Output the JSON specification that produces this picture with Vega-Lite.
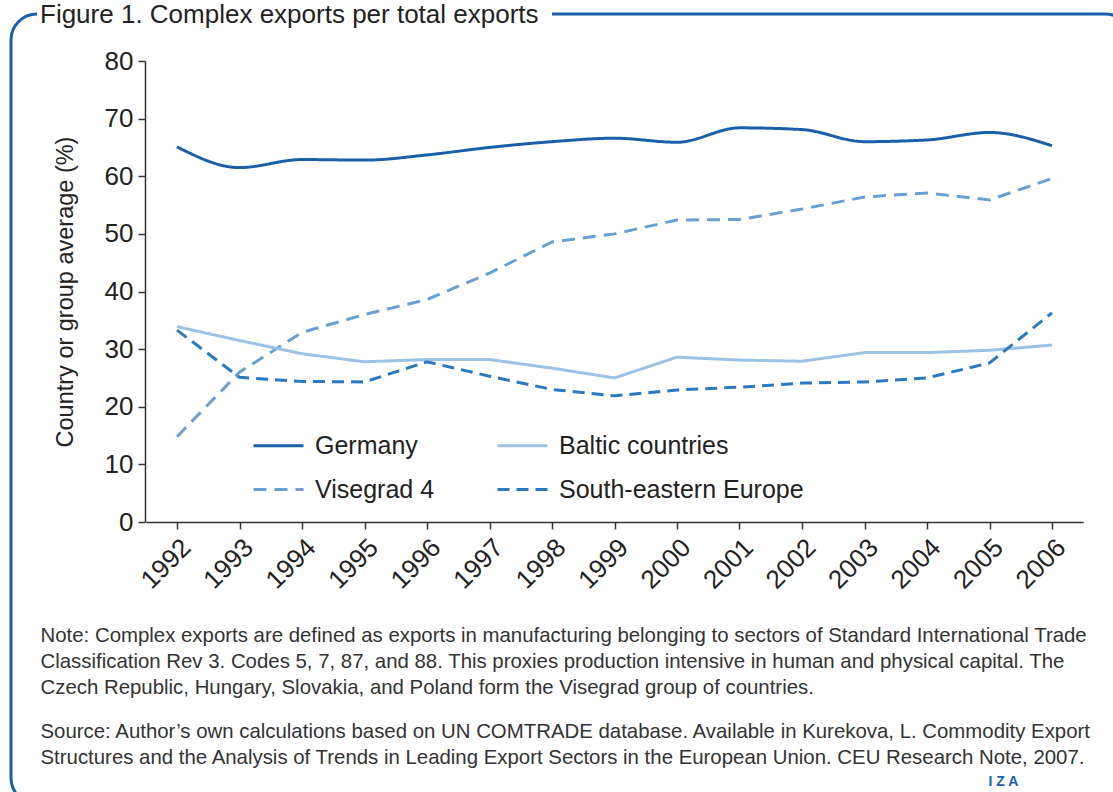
{
  "$schema": "https://vega.github.io/schema/vega-lite/v6.json",
  "width": 1120,
  "height": 790,
  "autosize": "none",
  "padding": {"left": 11, "top": 14, "right": 0, "bottom": 0},
  "background": "white",
  "title": {
    "text": "Figure 1. Complex exports per total exports",
    "anchor": "start",
    "frame": "group",
    "dx": 29,
    "offset": -27,
    "baseline": "middle",
    "font": "Liberation Sans",
    "fontSize": 26,
    "fontWeight": "normal",
    "color": "#222222"
  },
  "data": {
    "values": [
      {"year": 1992, "series": "Germany", "value": 65.1},
      {"year": 1993, "series": "Germany", "value": 61.5},
      {"year": 1994, "series": "Germany", "value": 62.9},
      {"year": 1995, "series": "Germany", "value": 62.8},
      {"year": 1996, "series": "Germany", "value": 63.7},
      {"year": 1997, "series": "Germany", "value": 65.0},
      {"year": 1998, "series": "Germany", "value": 66.0},
      {"year": 1999, "series": "Germany", "value": 66.6},
      {"year": 2000, "series": "Germany", "value": 65.9},
      {"year": 2001, "series": "Germany", "value": 68.4},
      {"year": 2002, "series": "Germany", "value": 68.1},
      {"year": 2003, "series": "Germany", "value": 66.0},
      {"year": 2004, "series": "Germany", "value": 66.3},
      {"year": 2005, "series": "Germany", "value": 67.6},
      {"year": 2006, "series": "Germany", "value": 65.3},

      {"year": 1992, "series": "Visegrad 4", "value": 14.8},
      {"year": 1993, "series": "Visegrad 4", "value": 26.0},
      {"year": 1994, "series": "Visegrad 4", "value": 32.9},
      {"year": 1995, "series": "Visegrad 4", "value": 36.0},
      {"year": 1996, "series": "Visegrad 4", "value": 38.6},
      {"year": 1997, "series": "Visegrad 4", "value": 43.2},
      {"year": 1998, "series": "Visegrad 4", "value": 48.6},
      {"year": 1999, "series": "Visegrad 4", "value": 50.0},
      {"year": 2000, "series": "Visegrad 4", "value": 52.4},
      {"year": 2001, "series": "Visegrad 4", "value": 52.5},
      {"year": 2002, "series": "Visegrad 4", "value": 54.3},
      {"year": 2003, "series": "Visegrad 4", "value": 56.4},
      {"year": 2004, "series": "Visegrad 4", "value": 57.1},
      {"year": 2005, "series": "Visegrad 4", "value": 55.9},
      {"year": 2006, "series": "Visegrad 4", "value": 59.6},

      {"year": 1992, "series": "Baltic countries", "value": 33.9},
      {"year": 1993, "series": "Baltic countries", "value": 31.5},
      {"year": 1994, "series": "Baltic countries", "value": 29.2},
      {"year": 1995, "series": "Baltic countries", "value": 27.8},
      {"year": 1996, "series": "Baltic countries", "value": 28.2},
      {"year": 1997, "series": "Baltic countries", "value": 28.2},
      {"year": 1998, "series": "Baltic countries", "value": 26.7},
      {"year": 1999, "series": "Baltic countries", "value": 25.0},
      {"year": 2000, "series": "Baltic countries", "value": 28.6},
      {"year": 2001, "series": "Baltic countries", "value": 28.1},
      {"year": 2002, "series": "Baltic countries", "value": 27.9},
      {"year": 2003, "series": "Baltic countries", "value": 29.4},
      {"year": 2004, "series": "Baltic countries", "value": 29.4},
      {"year": 2005, "series": "Baltic countries", "value": 29.8},
      {"year": 2006, "series": "Baltic countries", "value": 30.7},

      {"year": 1992, "series": "South-eastern Europe", "value": 33.3},
      {"year": 1993, "series": "South-eastern Europe", "value": 25.1},
      {"year": 1994, "series": "South-eastern Europe", "value": 24.4},
      {"year": 1995, "series": "South-eastern Europe", "value": 24.3},
      {"year": 1996, "series": "South-eastern Europe", "value": 27.8},
      {"year": 1997, "series": "South-eastern Europe", "value": 25.3},
      {"year": 1998, "series": "South-eastern Europe", "value": 23.0},
      {"year": 1999, "series": "South-eastern Europe", "value": 21.9},
      {"year": 2000, "series": "South-eastern Europe", "value": 22.9},
      {"year": 2001, "series": "South-eastern Europe", "value": 23.4},
      {"year": 2002, "series": "South-eastern Europe", "value": 24.1},
      {"year": 2003, "series": "South-eastern Europe", "value": 24.3},
      {"year": 2004, "series": "South-eastern Europe", "value": 25.0},
      {"year": 2005, "series": "South-eastern Europe", "value": 27.6},
      {"year": 2006, "series": "South-eastern Europe", "value": 36.3}
    ]
  },
  "layer": [
    {
      "transform": [{"filter": "datum.series === 'Germany'"}],
      "mark": {"type": "line", "interpolate": "monotone", "strokeWidth": 3},
      "encoding": {
        "x": {
          "field": "year",
          "type": "quantitative",
          "scale": {"domain": [1991.5, 2006.5], "range": [134.75, 1072.25], "nice": false, "zero": false},
          "axis": {
            "orient": "bottom",
            "offset": -282,
            "values": [1992, 1993, 1994, 1995, 1996, 1997, 1998, 1999, 2000, 2001, 2002, 2003, 2004, 2005, 2006],
            "format": "d",
            "labelAngle": -45,
            "labelPadding": 5,
            "labelFontSize": 26,
            "tickSize": 7,
            "grid": false,
            "title": [
              "Note: Complex exports are defined as exports in manufacturing belonging to sectors of Standard International Trade",
              "Classification Rev 3. Codes 5, 7, 87, and 88. This proxies production intensive in human and physical capital. The",
              "Czech Republic, Hungary, Slovakia, and Poland form the Visegrad group of countries."
            ],
            "titleX": 29,
            "titleY": 119,
            "titleAngle": 0,
            "titleAlign": "left",
            "titleAnchor": "start",
            "titleBaseline": "alphabetic",
            "titleFontSize": 20.4,
            "titleFontWeight": "normal",
            "titleColor": "#333333",
            "titleLineHeight": 26,
            "titleLimit": 2000
          }
        },
        "y": {
          "field": "value",
          "type": "quantitative",
          "scale": {"domain": [0, 80], "range": [508, 47], "nice": false, "zero": true},
          "axis": {
            "orient": "left",
            "offset": -134,
            "values": [0, 10, 20, 30, 40, 50, 60, 70, 80],
            "tickSize": 7,
            "labelPadding": 5,
            "labelFontSize": 26,
            "grid": false,
            "title": "Country or group average (%)",
            "titleX": -80,
            "titleY": 277.5,
            "titleAngle": 270,
            "titleAlign": "center",
            "titleBaseline": "middle",
            "titleFontSize": 23.5,
            "titleFontWeight": "normal",
            "titleColor": "#222222"
          }
        },
        "color": {
          "field": "series",
          "type": "nominal",
          "scale": {
            "domain": ["Germany", "Visegrad 4", "Baltic countries", "South-eastern Europe"],
            "range": ["#1b5faa", "#6a9fd3", "#9cc2e5", "#2b79c0"]
          },
          "legend": {
            "orient": "none",
            "legendX": 241,
            "legendY": 405,
            "columns": 2,
            "title": null
          }
        },
        "strokeDash": {
          "field": "series",
          "type": "nominal",
          "scale": {
            "domain": ["Germany", "Visegrad 4", "Baltic countries", "South-eastern Europe"],
            "range": [[1, 0], [13, 8], [1, 0], [12, 7]]
          },
          "legend": {
            "orient": "none",
            "legendX": 241,
            "legendY": 405,
            "columns": 2,
            "title": null
          }
        }
      }
    },
    {
      "transform": [{"filter": "datum.series !== 'Germany'"}],
      "mark": {"type": "line", "strokeWidth": 3},
      "encoding": {
        "x": {
          "field": "year",
          "type": "quantitative",
          "scale": {"domain": [1991.5, 2006.5], "range": [134.75, 1072.25], "nice": false, "zero": false},
          "axis": {
            "orient": "top",
            "offset": 0,
            "domain": false,
            "ticks": false,
            "labels": false,
            "grid": false,
            "title": [
              "Source: Author’s own calculations based on UN COMTRADE database. Available in Kurekova, L. Commodity Export",
              "Structures and the Analysis of Trends in Leading Export Sectors in the European Union. CEU Research Note, 2007."
            ],
            "titleX": 29,
            "titleY": 723,
            "titleAngle": 0,
            "titleAlign": "left",
            "titleAnchor": "start",
            "titleBaseline": "alphabetic",
            "titleFontSize": 20.4,
            "titleFontWeight": "normal",
            "titleColor": "#333333",
            "titleLineHeight": 26,
            "titleLimit": 2000
          }
        },
        "y": {
          "field": "value",
          "type": "quantitative",
          "scale": {"domain": [0, 80], "range": [508, 47], "nice": false, "zero": true},
          "axis": {
            "orient": "right",
            "offset": 0,
            "domain": false,
            "ticks": false,
            "labels": false,
            "grid": false,
            "title": "I  Z  A",
            "titleX": -128,
            "titleY": 767,
            "titleAngle": 0,
            "titleAlign": "center",
            "titleBaseline": "middle",
            "titleFontSize": 14,
            "titleFontWeight": "bold",
            "titleColor": "#1b5faa"
          }
        },
        "color": {
          "field": "series",
          "type": "nominal",
          "scale": {
            "domain": ["Germany", "Visegrad 4", "Baltic countries", "South-eastern Europe"],
            "range": ["#1b5faa", "#6a9fd3", "#9cc2e5", "#2b79c0"]
          }
        },
        "strokeDash": {
          "field": "series",
          "type": "nominal",
          "scale": {
            "domain": ["Germany", "Visegrad 4", "Baltic countries", "South-eastern Europe"],
            "range": [[1, 0], [13, 8], [1, 0], [12, 7]]
          }
        }
      }
    }
  ],
  "resolve": {"axis": {"x": "independent", "y": "independent"}},
  "config": {
    "font": "Liberation Sans",
    "view": {
      "stroke": "#1b5faa",
      "strokeWidth": 3,
      "cornerRadius": 26,
      "strokeDash": [4000, 515],
      "strokeDashOffset": 4000,
      "fill": "white"
    },
    "axis": {
      "labelFont": "Liberation Sans",
      "titleFont": "Liberation Sans",
      "labelFontSize": 25,
      "labelColor": "#222222",
      "domainColor": "#333333",
      "domainWidth": 1.5,
      "tickColor": "#333333",
      "tickWidth": 1.5
    },
    "legend": {
      "symbolType": "stroke",
      "symbolSize": 2500,
      "symbolStrokeWidth": 3,
      "labelFont": "Liberation Sans",
      "labelFontSize": 25,
      "labelColor": "#222222",
      "labelOffset": 10,
      "labelLimit": 400,
      "columnPadding": 56,
      "rowPadding": 4,
      "padding": 0
    }
  }
}
